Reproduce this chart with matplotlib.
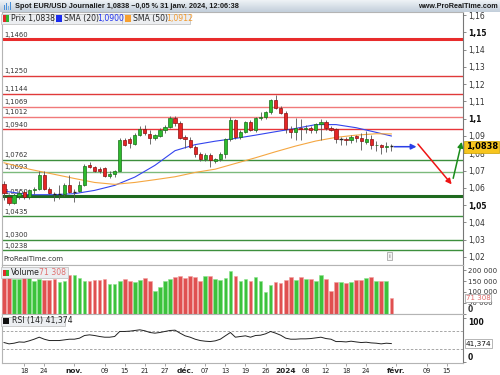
import numpy as np
import pandas as pd
import matplotlib
matplotlib.use("Agg")
import matplotlib.pyplot as plt
from matplotlib.patches import Rectangle
from matplotlib.transforms import blended_transform_factory

W, H = 500, 375

# forex trading days (no Dec 25 / Jan 1), extended past the last candle for the axis
holidays = pd.to_datetime(["2023-12-25", "2024-01-01"])
days = pd.bdate_range("2023-10-12", "2024-02-29")
days = days[~days.isin(holidays)]

opens = [1.0622, 1.0545, 1.0512, 1.0555, 1.0575, 1.0545, 1.0585, 1.0595, 1.0672, 1.0592,
         1.0566, 1.0562, 1.0566, 1.0615, 1.0576, 1.0580, 1.0618, 1.0734, 1.0722, 1.0708,
         1.0712, 1.0668, 1.0682, 1.0698, 1.0876, 1.0885, 1.0855, 1.0905, 1.0942, 1.0912,
         1.0886, 1.0900, 1.0936, 1.0954, 1.1006, 1.0973, 1.0896, 1.0878, 1.0838, 1.0795,
         1.0766, 1.0790, 1.0758, 1.0765, 1.0793, 1.0880, 1.0992, 1.0896, 1.0921, 1.0979,
         1.0936, 1.1006, 1.1011, 1.1040, 1.1108, 1.1060, 1.1031, 1.0938, 1.0925, 1.0946,
         1.0940, 1.0948, 1.0934, 1.0967, 1.0979, 1.0948, 1.0938, 1.0878, 1.0884, 1.0878,
         1.0898, 1.0890, 1.0868, 1.0885, 1.0845, 1.0850, 1.0834, 1.0842]
highs = [1.0638, 1.0555, 1.0570, 1.0585, 1.0590, 1.0595, 1.0605, 1.0695, 1.0695, 1.0605,
         1.0578, 1.0615, 1.0628, 1.0675, 1.0592, 1.0640, 1.0740, 1.0748, 1.0728, 1.0720,
         1.0722, 1.0695, 1.0705, 1.0888, 1.0890, 1.0892, 1.0915, 1.0955, 1.0965, 1.0935,
         1.0912, 1.0945, 1.0965, 1.1017, 1.1017, 1.0985, 1.0905, 1.0892, 1.0845, 1.0805,
         1.0800, 1.0800, 1.0775, 1.0805, 1.0890, 1.1008, 1.1000, 1.0935, 1.0988, 1.0990,
         1.1012, 1.1040, 1.1045, 1.1115, 1.1139, 1.1075, 1.1045, 1.0955, 1.1002, 1.1000,
         1.0965, 1.0960, 1.0975, 1.0998, 1.0990, 1.0960, 1.0948, 1.0892, 1.0895, 1.0905,
         1.0905, 1.0915, 1.0930, 1.0905, 1.0870, 1.0855, 1.0865, 1.0855]
lows = [1.0532, 1.0498, 1.0505, 1.0535, 1.0535, 1.0535, 1.0565, 1.0588, 1.0585, 1.0562,
        1.0522, 1.0535, 1.0555, 1.0570, 1.0516, 1.0575, 1.0612, 1.0715, 1.0692, 1.0688,
        1.0660, 1.0656, 1.0665, 1.0695, 1.0840, 1.0830, 1.0845, 1.0900, 1.0905, 1.0852,
        1.0878, 1.0895, 1.0920, 1.0945, 1.0960, 1.0880, 1.0828, 1.0830, 1.0780, 1.0758,
        1.0755, 1.0723, 1.0745, 1.0755, 1.0775, 1.0870, 1.0885, 1.0885, 1.0915, 1.0930,
        1.0925, 1.0990, 1.1000, 1.1030, 1.1055, 1.1030, 1.0920, 1.0890, 1.0876, 1.0877,
        1.0915, 1.0920, 1.0920, 1.0875, 1.0935, 1.0930, 1.0860, 1.0845, 1.0845, 1.0860,
        1.0865, 1.0820, 1.0855, 1.0822, 1.0815, 1.0795, 1.0805, 1.0815]
closes = [1.0568, 1.0512, 1.0560, 1.0570, 1.0545, 1.0585, 1.0595, 1.0672, 1.0592, 1.0568,
          1.0562, 1.0566, 1.0615, 1.0575, 1.0580, 1.0618, 1.0728, 1.0722, 1.0700, 1.0696,
          1.0668, 1.0682, 1.0698, 1.0876, 1.0848, 1.0858, 1.0905, 1.0942, 1.0915, 1.0888,
          1.0903, 1.0936, 1.0954, 1.1006, 1.0973, 1.0890, 1.0883, 1.0838, 1.0793, 1.0768,
          1.0790, 1.0762, 1.0765, 1.0793, 1.0880, 1.0992, 1.0896, 1.0921, 1.0979, 1.0934,
          1.1006, 1.1011, 1.1040, 1.1108, 1.1060, 1.1031, 1.0938, 1.0924, 1.0944, 1.0940,
          1.0948, 1.0934, 1.0967, 1.0979, 1.0948, 1.0934, 1.0882, 1.0882, 1.0878, 1.0896,
          1.0890, 1.0870, 1.0885, 1.0846, 1.0850, 1.0836, 1.0842, 1.0838]
volumes = [163, 168, 159, 159, 168, 171, 151, 159, 156, 156,
           162, 147, 153, 179, 179, 163, 153, 153, 156, 156,
           160, 139, 136, 151, 159, 150, 144, 156, 163, 153,
           105, 122, 150, 159, 168, 174, 163, 176, 168, 153,
           176, 174, 159, 156, 163, 198, 174, 151, 159, 153,
           168, 151, 99, 133, 145, 140, 156, 168, 156, 168,
           160, 159, 151, 179, 160, 105, 145, 145, 140, 145,
           156, 156, 163, 168, 151, 151, 151, 71.308]
rsi = [43.7, 40.7, 42.2, 45.0, 44.4, 47.5, 51.2, 55.7, 51.2, 48.2,
       48.2, 48.2, 49.7, 51.2, 51.2, 53.5, 59.5, 61.0, 59.5, 57.3,
       55.7, 55.7, 57.3, 68.6, 68.6, 69.3, 70.8, 72.3, 70.1, 66.3,
       64.8, 66.3, 68.6, 70.8, 71.5, 64.8, 58.8, 55.7, 51.2, 48.2,
       46.7, 45.9, 47.5, 51.2, 58.8, 66.3, 55.7, 57.3, 58.8, 55.7,
       59.5, 60.2, 63.3, 68.6, 64.8, 60.2, 53.5, 51.2, 51.2, 52.0,
       52.0, 52.7, 54.2, 55.7, 52.7, 51.2, 45.9, 45.9, 45.1, 46.7,
       45.1, 43.7, 44.4, 42.9, 42.2, 40.7, 42.2, 41.374]

sma_at = [0, 5, 10, 14, 18, 22, 26, 30, 34, 38, 42, 46, 50, 54, 58, 62, 66, 70, 74, 77]
sma20 = [1.0581, 1.0560, 1.0560, 1.0566, 1.0585, 1.0614, 1.0662, 1.0730, 1.0815, 1.0850,
         1.0870, 1.0886, 1.0905, 1.0925, 1.0944, 1.0966, 1.0966, 1.0948, 1.0921, 1.0900]
sma50 = [1.0745, 1.0708, 1.0678, 1.0654, 1.0631, 1.0620, 1.0631, 1.0647, 1.0664, 1.0689,
         1.0708, 1.0741, 1.0774, 1.0809, 1.0842, 1.0871, 1.0892, 1.0905, 1.0913, 1.0912]

res_levels = [1.1460, 1.1250, 1.1144, 1.1069, 1.1012, 1.0940]
res_colors = ["#e82c2c", "#e03a3a", "#e03a3a", "#f07a7a", "#f07a7a", "#e8353a"]
res_width = [2.2, 1.0, 1.0, 1.0, 1.0, 1.0]
sup_levels = [1.0762, 1.0693, 1.0550, 1.0435, 1.0300, 1.0238]
sup_colors = ["#3d8f3d", "#7cba7c", "#1f6a1f", "#3d8f3d", "#3d8f3d", "#3d8f3d"]
sup_width = [1.0, 1.0, 2.2, 1.0, 1.0, 1.0]

# scenario arrows: (colour, start day, start price, end day, end price)
arrows = [("#2b3fe6", 77.6, 1.0838, 82.0, 1.0838),
          ("#ee1515", 82.3, 1.0853, 89.0, 1.0620),
          ("#1a8c1a", 89.3, 1.0655, 91.0, 1.0866)]

tick_dates = ["2023-10-18", "2023-10-24", "2023-11-01", "2023-11-09", "2023-11-15",
              "2023-11-21", "2023-11-27", "2023-12-01", "2023-12-07", "2023-12-13",
              "2023-12-19", "2023-12-26", "2024-01-02", "2024-01-08", "2024-01-12",
              "2024-01-18", "2024-01-24", "2024-02-01", "2024-02-09", "2024-02-15"]
tick_labels = ["18", "24", "nov.", "09", "15", "21", "27", "déc.", "07", "13",
               "19", "26", "2024", "08", "12", "18", "24", "févr.", "09", "15"]
bold_ticks = {"nov.", "déc.", "2024", "févr."}

price_ticks = np.round(np.arange(1.02, 1.1601, 0.01), 2)
vol_ticks = [0, 50, 100, 150, 200]
vol_tick_labels = ["0", "50 000", "100 000", "150 000", "200 000"]

n = len(closes)
idx = np.arange(n)
up = np.array(closes) >= np.array(opens)
XL = (-0.4, 91.25)

fig = plt.figure(figsize=(5, 3.75), dpi=100)
fig.patch.set_facecolor("white")


def fax(x0, y0, x1, y1):
    return fig.add_axes([x0 / W, 1 - y1 / H, (x1 - x0) / W, (y1 - y0) / H])


def ftext(x, y, s, **kw):
    return fig.text(x / W, 1 - y / H, s, **kw)


def frect(x0, y0, x1, y1, **kw):
    fig.patches.append(Rectangle((x0 / W, 1 - y1 / H), (x1 - x0) / W, (y1 - y0) / H,
                                 transform=fig.transFigure, **kw))


def style(a):
    for s in a.spines.values():
        s.set_color("#b4b4b4")
        s.set_linewidth(0.8)
    a.spines["right"].set_color("#777777")
    a.set_xlim(*XL)
    a.yaxis.tick_right()
    a.tick_params(axis="y", length=2, width=0.6, color="#777777", labelsize=5.5,
                  labelcolor="#333333", pad=1.5)
    a.tick_params(axis="x", bottom=False, labelbottom=False)


# ---------- price panel ----------
ax = fax(2, 12, 463, 265)
style(ax)
ax.set_ylim(1.0153, 1.1618)
ax.set_yticks(price_ticks)
ax.set_yticklabels([("%g" % t).replace(".", ",") for t in price_ticks])
for t, lab in zip(price_ticks, ax.get_yticklabels()):
    if round(t * 100) % 5 == 0:
        lab.set_fontweight("bold")
        lab.set_color("#111111")

for lv, c, w in zip(res_levels + sup_levels, res_colors + sup_colors, res_width + sup_width):
    ax.axhline(lv, color=c, lw=w, zorder=1)
    ax.text(0.0, lv + 0.0009, ("%.4f" % lv).replace(".", ","), fontsize=4.9,
            color="#333333", va="bottom", ha="left", zorder=1.5)

ax.plot(sma_at, sma20, color="#3344ee", lw=0.8, zorder=2)
ax.plot(sma_at, sma50, color="#f5a742", lw=0.8, zorder=2)

for i in idx:
    o, h, l, c = opens[i], highs[i], lows[i], closes[i]
    ax.vlines(i, l, h, color="#555555", lw=0.6, zorder=3)
    if abs(c - o) < 0.0004:
        ax.hlines((o + c) / 2, i - 0.32, i + 0.32, color="#222222", lw=1.0, zorder=4)
        continue
    fc, ec = ("#2dbb2d", "#1b6e1b") if c >= o else ("#e52525", "#8a1010")
    ax.add_patch(Rectangle((i - 0.32, min(o, c)), 0.64, abs(c - o), facecolor=fc,
                           edgecolor=ec, lw=0.5, zorder=4))

for col, x0, y0, x1, y1 in arrows:
    ax.annotate("", xy=(x1, y1), xytext=(x0, y0),
                arrowprops=dict(arrowstyle="-|>", color=col, lw=1.1,
                                mutation_scale=8, shrinkA=0, shrinkB=0), zorder=5)

tr = blended_transform_factory(ax.transAxes, ax.transData)
ax.text(1.006, closes[-1], ("%.4f" % closes[-1]).replace(".", ","), transform=tr,
        fontsize=6, fontweight="bold", va="center", ha="left", color="black",
        bbox=dict(boxstyle="square,pad=0.18", fc="#f7c51e", ec="#caa000", lw=0.5),
        clip_on=False, zorder=10)
ax.text(0.002, 0.025, "ProRealTime.com", transform=ax.transAxes, fontsize=5,
        color="#333333", va="center", ha="left")
ax.text(0.841, 0.035, "i", transform=ax.transAxes, fontsize=4.5, color="#666666",
        va="center", ha="center",
        bbox=dict(boxstyle="square,pad=0.25", fc="#f4f4f4", ec="#999999", lw=0.5))

# ---------- volume panel ----------
axv = fax(2, 265, 463, 313.5)
style(axv)
axv.set_ylim(0, 225)
vcol = np.where(up, "#3cc23c", "#e05050")
vedge = np.where(up, "#8ee38e", "#f2a0a0")
axv.bar(idx, volumes, width=0.72, color=vcol, edgecolor=vedge, lw=0.4, zorder=3)
axv.set_yticks(vol_ticks)
axv.set_yticklabels(vol_tick_labels)
axv.tick_params(axis="y", labelsize=5)
zero_lab = axv.get_yticklabels()[0]
zero_lab.set_fontweight("bold")
zero_lab.set_fontsize(5.5)
zero_lab.set_verticalalignment("bottom")
trv = blended_transform_factory(axv.transAxes, axv.transData)
axv.text(1.006, volumes[-1], "71 308", transform=trv, fontsize=5, color="#e06a6a",
         va="center", ha="left", clip_on=False, zorder=10,
         bbox=dict(boxstyle="square,pad=0.12", fc="white", ec="#999999", lw=0.5))

# ---------- RSI panel ----------
axr = fax(2, 313.5, 463, 363.3)
style(axr)
axr.set_ylim(-3, 109)
axr.plot(idx, rsi, color="#222222", lw=0.7, zorder=3)
for lv in (70, 30):
    axr.axhline(lv, color="#999999", lw=0.6, ls=(0, (3, 2)), zorder=1)
axr.set_yticks([0, 100])
axr.set_yticklabels(["0", "100"], fontweight="bold", color="#111111")
axr.get_yticklabels()[1].set_verticalalignment("top")
axr.get_yticklabels()[0].set_verticalalignment("bottom")
trr = blended_transform_factory(axr.transAxes, axr.transData)
axr.text(1.006, rsi[-1], "41,374", transform=trr, fontsize=5.3, color="#111111",
         va="center", ha="left", clip_on=False, zorder=10,
         bbox=dict(boxstyle="square,pad=0.15", fc="white", ec="#999999", lw=0.5))

pos = [days.get_loc(pd.Timestamp(d)) for d in tick_dates]
axr.set_xticks(pos)
axr.set_xticklabels(tick_labels)
axr.tick_params(axis="x", bottom=True, labelbottom=True, length=2, width=0.6,
                color="#999999", labelsize=4.8, labelcolor="#222222", pad=1.5)
for lab in axr.get_xticklabels():
    if lab.get_text() in bold_ticks:
        lab.set_fontweight("bold")
        lab.set_fontsize(5.3)

# ---------- header ----------
axh = fax(0, 0, 500, 12)
grad = np.linspace(0, 1, 20)[:, None]
axh.imshow(grad, aspect="auto", cmap=matplotlib.colors.LinearSegmentedColormap.from_list(
    "hdr", ["#eef2f6", "#c3cfdb"]), extent=(0, 1, 0, 1))
axh.set_axis_off()
for hx, hh, hc in [(3.5, 5, "#4a90d9"), (5.5, 7, "#4a90d9"),
                   (7.5, 4, "#79b4e8"), (9.5, 8, "#4a90d9")]:
    frect(hx, 10 - hh, hx + 1.2, 10, facecolor=hc, edgecolor="none")
ftext(15, 6.2, "Spot EUR/USD Journalier 1,0838 \u22120,05 % 31 janv. 2024, 12:06:38",
      fontsize=5.3, fontweight="bold", color="#1a1a1a", va="center", ha="left",
      family="Liberation Sans")
ftext(498, 6.2, "www.ProRealTime.com", fontsize=5.2, fontweight="bold", color="#1a1a1a",
      va="center", ha="right", family="Liberation Sans")

# legend row
for x0, x1 in [(1, 53), (53, 122), (122, 190)]:
    frect(x0, 13.5, x1, 23.5, facecolor="#eceef1", edgecolor="#c4c4c4", lw=0.6)
frect(3, 15.5, 5.5, 21.5, facecolor="#e02a2a", edgecolor="none")
frect(5.5, 15.5, 8.5, 21.5, facecolor="#2fb52f", edgecolor="none")
frect(55.5, 15.5, 61.5, 21.5, facecolor="#1a2cf0", edgecolor="none")
frect(124.5, 15.5, 130.5, 21.5, facecolor="#f7a030", edgecolor="none")
ftext(11, 18.7, "Prix 1,0838", fontsize=5.6, color="#222222", va="center")
ftext(64, 18.7, "SMA (20)", fontsize=5.6, color="#222222", va="center")
ftext(97, 18.7, "1,0900", fontsize=5.6, color="#2233ee", va="center")
ftext(133, 18.7, "SMA (50)", fontsize=5.6, color="#222222", va="center")
ftext(166, 18.7, "1,0912", fontsize=5.6, color="#f29a2e", va="center")

# volume legend
frect(1, 267, 68, 277.5, facecolor="#eceef1", edgecolor="#c4c4c4", lw=0.6, zorder=5)
frect(3, 269.5, 5.5, 275.5, facecolor="#e02a2a", edgecolor="none", zorder=6)
frect(5.5, 269.5, 8.5, 275.5, facecolor="#2fb52f", edgecolor="none", zorder=6)
ftext(11, 272.5, "Volume", fontsize=5.6, color="#222222", va="center", zorder=6)
ftext(39, 272.5, "71 308", fontsize=5.6, color="#e07070", va="center", zorder=6)

# RSI legend
frect(1, 316.5, 65, 325.5, facecolor="#eceef1", edgecolor="#c4c4c4", lw=0.6, zorder=5)
frect(3, 318, 9, 324, facecolor="#111111", edgecolor="none", zorder=6)
ftext(12, 321, "RSI (14) 41,374", fontsize=5.6, color="#222222", va="center", zorder=6)

fig.savefig("out.png", dpi=100, facecolor="white")
